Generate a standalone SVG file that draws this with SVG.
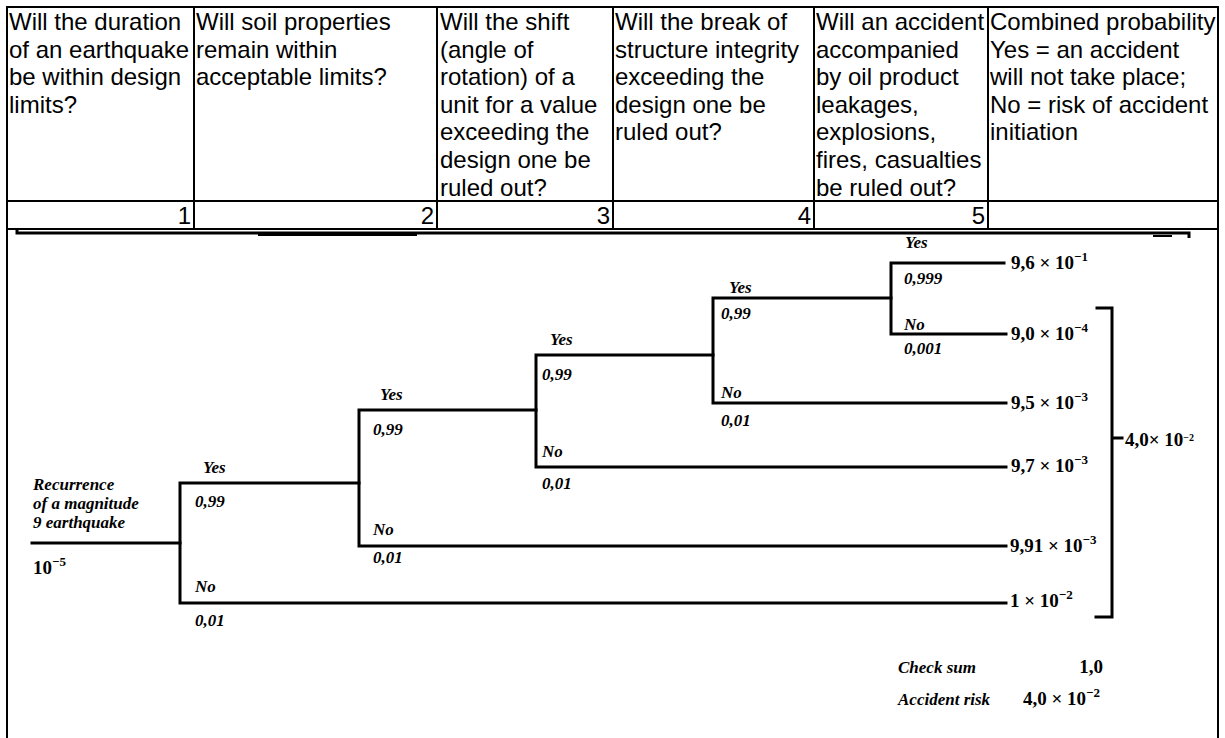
<svg xmlns="http://www.w3.org/2000/svg" width="1225" height="738" viewBox="0 0 1225 738">
<style>
.hd{font-family:"Liberation Sans",Arial,sans-serif;font-size:24px;fill:#000}
.num{font-family:"Liberation Sans",Arial,sans-serif;font-size:24px;fill:#000;text-anchor:end}
.tl{font-family:"Liberation Serif","Times New Roman",serif;font-size:17px;font-weight:bold;font-style:italic;fill:#000}
.ov{font-family:"Liberation Serif","Times New Roman",serif;font-size:19px;font-weight:bold;fill:#000}
.sup{font-size:13px}
.grid{stroke:#000;stroke-width:2;fill:none}
.br{stroke:#000;stroke-width:3;fill:none;stroke-linecap:square}
</style>
<rect width="1225" height="738" fill="#fff"/>
<g id="table">
<path class="grid" d="M7,738 V7 H1218 V738 M7,201 H1218 M7,229 H1218 M194,7 V229 M437,7 V229 M613,7 V229 M814,7 V229 M988,7 V229"/>
<text class="hd"><tspan x="9" y="30">Will the duration</tspan><tspan x="9" y="57.6">of an earthquake</tspan><tspan x="9" y="85.2">be within design</tspan><tspan x="9" y="112.8">limits?</tspan></text>
<text class="hd"><tspan x="196" y="30">Will soil properties</tspan><tspan x="196" y="57.6">remain within</tspan><tspan x="196" y="85.2">acceptable limits?</tspan></text>
<text class="hd"><tspan x="440" y="30">Will the shift</tspan><tspan x="440" y="57.6">(angle of</tspan><tspan x="440" y="85.2">rotation) of a</tspan><tspan x="440" y="112.8">unit for a value</tspan><tspan x="440" y="140.4">exceeding the</tspan><tspan x="440" y="168">design one be</tspan><tspan x="440" y="195.6">ruled out?</tspan></text>
<text class="hd"><tspan x="615" y="30">Will the break of</tspan><tspan x="615" y="57.6">structure integrity</tspan><tspan x="615" y="85.2">exceeding the</tspan><tspan x="615" y="112.8">design one be</tspan><tspan x="615" y="140.4">ruled out?</tspan></text>
<text class="hd"><tspan x="816" y="30">Will an accident</tspan><tspan x="816" y="57.6">accompanied</tspan><tspan x="816" y="85.2">by oil product</tspan><tspan x="816" y="112.8">leakages,</tspan><tspan x="816" y="140.4">explosions,</tspan><tspan x="816" y="168">fires, casualties</tspan><tspan x="816" y="195.6">be ruled out?</tspan></text>
<text class="hd"><tspan x="990" y="30">Combined probability</tspan><tspan x="990" y="57.6">Yes = an accident</tspan><tspan x="990" y="85.2">will not take place;</tspan><tspan x="990" y="112.8">No = risk of accident</tspan><tspan x="990" y="140.4">initiation</tspan></text>
<text class="num" x="191" y="224">1</text>
<text class="num" x="434" y="224">2</text>
<text class="num" x="610" y="224">3</text>
<text class="num" x="811" y="224">4</text>
<text class="num" x="985" y="224">5</text>
<path d="M17,230 V233 H1189 V238" stroke="#000" stroke-width="3" fill="none"/>
<path d="M258,235 H417 M1153,236 H1172" stroke="#000" stroke-width="2" fill="none"/>
</g>
<g id="connectors">
<path class="br" d="M32,543 H180"/>
<path class="br" d="M180,483 V603 M180,483 H359 M180,603 H1006"/>
<path class="br" d="M359,410 V546 M359,410 H536 M359,546 H1006"/>
<path class="br" d="M536,355 V467 M536,355 H713 M536,467 H1006"/>
<path class="br" d="M713,298 V403 M713,298 H891 M713,403 H1006"/>
<path class="br" d="M891,263 V334 M891,263 H1004 M891,334 H1006"/>
<path class="br" d="M1097,308 H1112 V617 H1096 M1112,438 H1122"/>
</g>
<g id="root">
<text class="tl"><tspan x="33" y="490">Recurrence</tspan><tspan x="33" y="509">of a magnitude</tspan><tspan x="33" y="528">9 earthquake</tspan></text>
<text class="ov" x="33" y="574">10<tspan class="sup" dy="-8">−5</tspan></text>
</g>
<g id="node1">
<text class="tl" x="203" y="473">Yes</text>
<text class="tl" x="195" y="507">0,99</text>
<text class="tl" x="195" y="592">No</text>
<text class="tl" x="195" y="626">0,01</text>
</g>
<g id="node2">
<text class="tl" x="380" y="400">Yes</text>
<text class="tl" x="373" y="435">0,99</text>
<text class="tl" x="373" y="535">No</text>
<text class="tl" x="373" y="563">0,01</text>
</g>
<g id="node3">
<text class="tl" x="550" y="345">Yes</text>
<text class="tl" x="542" y="380">0,99</text>
<text class="tl" x="542" y="457">No</text>
<text class="tl" x="542" y="489">0,01</text>
</g>
<g id="node4">
<text class="tl" x="729" y="293">Yes</text>
<text class="tl" x="721" y="319">0,99</text>
<text class="tl" x="721" y="398">No</text>
<text class="tl" x="721" y="426">0,01</text>
</g>
<g id="node5">
<text class="tl" x="905" y="248">Yes</text>
<text class="tl" x="904" y="284">0,999</text>
<text class="tl" x="904" y="330">No</text>
<text class="tl" x="904" y="354">0,001</text>
</g>
<g id="outcomes">
<text class="ov" x="1011" y="269">9,6 × 10<tspan class="sup" dy="-8">−1</tspan></text>
<text class="ov" x="1011" y="340">9,0 × 10<tspan class="sup" dy="-8">−4</tspan></text>
<text class="ov" x="1011" y="409">9,5 × 10<tspan class="sup" dy="-8">−3</tspan></text>
<text class="ov" x="1011" y="472">9,7 × 10<tspan class="sup" dy="-8">−3</tspan></text>
<text class="ov" x="1010" y="552">9,91 × 10<tspan class="sup" dy="-8">−3</tspan></text>
<text class="ov" x="1010" y="607">1 × 10<tspan class="sup" dy="-8">−2</tspan></text>
</g>
<g id="total">
<text class="ov" x="1125" y="446" font-size="13">4,0× 10<tspan font-size="10" dy="-5">−2</tspan></text>
</g>
<g id="summary">
<text class="tl" x="898" y="673">Check sum</text>
<text class="ov" x="1103" y="673" text-anchor="end">1,0</text>
<text class="tl" x="898" y="705">Accident risk</text>
<text class="ov" x="1023" y="705">4,0 × 10<tspan class="sup" dy="-8">−2</tspan></text>
</g>
</svg>
